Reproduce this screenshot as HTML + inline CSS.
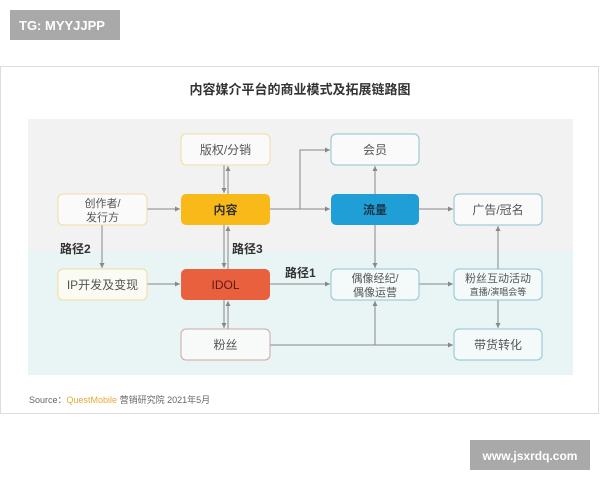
<!DOCTYPE html>
<html><head><meta charset="utf-8"><style>
html,body{margin:0;padding:0;background:#fff;width:600px;height:480px;overflow:hidden}
svg text{font-family:"Liberation Sans","Noto Sans CJK SC",sans-serif}
</style></head><body>
<svg width="600" height="480" viewBox="0 0 600 480" xmlns="http://www.w3.org/2000/svg">
<defs><marker id="a" markerWidth="6" markerHeight="6" refX="5" refY="3" orient="auto"><path d="M0,0.5 L5,3 L0,5.5z" fill="#888"/></marker></defs>
<rect x="10" y="10" width="110" height="30" fill="#a9a9a9"/>
<text x="19" y="30" font-size="13" fill="#fff" font-weight="bold">TG: MYYJJPP</text>
<rect x="0.5" y="66.5" width="598" height="347" fill="#fff" stroke="#ddd"/>
<text x="300" y="94" font-size="13" fill="#333" text-anchor="middle" font-weight="bold">内容媒介平台的商业模式及拓展链路图</text>
<rect x="28" y="119" width="545" height="135" fill="#f2f2f2"/>
<rect x="28" y="250" width="545" height="125" fill="#e9f5f4"/>
<g stroke="#888" stroke-width="1" fill="none">
<line x1="224" y1="165" x2="224" y2="193" marker-end="url(#a)"/>
<line x1="228" y1="194" x2="228" y2="166" marker-end="url(#a)"/>
<line x1="147" y1="209" x2="180" y2="209" marker-end="url(#a)"/>
<line x1="270" y1="209" x2="330" y2="209" marker-end="url(#a)"/>
<polyline points="300,209 300,150 330,150" marker-end="url(#a)"/>
<line x1="375" y1="194" x2="375" y2="166" marker-end="url(#a)"/>
<line x1="419" y1="209" x2="453" y2="209" marker-end="url(#a)"/>
<line x1="375" y1="225" x2="375" y2="268" marker-end="url(#a)"/>
<line x1="102" y1="225" x2="102" y2="268" marker-end="url(#a)"/>
<line x1="224" y1="225" x2="224" y2="268" marker-end="url(#a)"/>
<line x1="228" y1="269" x2="228" y2="226" marker-end="url(#a)"/>
<line x1="147" y1="284" x2="180" y2="284" marker-end="url(#a)"/>
<line x1="270" y1="284" x2="330" y2="284" marker-end="url(#a)"/>
<line x1="419" y1="284" x2="453" y2="284" marker-end="url(#a)"/>
<line x1="498" y1="269" x2="498" y2="226" marker-end="url(#a)"/>
<line x1="498" y1="300" x2="498" y2="328" marker-end="url(#a)"/>
<line x1="224" y1="300" x2="224" y2="328" marker-end="url(#a)"/>
<line x1="228" y1="329" x2="228" y2="301" marker-end="url(#a)"/>
<line x1="270" y1="345" x2="453" y2="345" marker-end="url(#a)"/>
<line x1="375" y1="345" x2="375" y2="301" marker-end="url(#a)"/>
</g>
<g font-size="12" text-anchor="middle" fill="#555">
<rect x="181" y="134" width="89" height="31" rx="5" fill="#fafafa" stroke="#f0dca0"/>
<text x="225.5" y="154">版权/分销</text>
<rect x="331" y="134" width="88" height="31" rx="5" fill="#fafafa" stroke="#8fc3d3"/>
<text x="375" y="154">会员</text>
<rect x="58" y="194" width="89" height="31" rx="5" fill="#fafafa" stroke="#f0dca0"/>
<text x="102.5" y="207" font-size="11">创作者/</text>
<text x="102.5" y="221" font-size="11">发行方</text>
<rect x="181" y="194" width="89" height="31" rx="5" fill="#f8b919"/>
<text x="225.5" y="214" fill="#333" font-weight="bold">内容</text>
<rect x="331" y="194" width="88" height="31" rx="5" fill="#1f9fd6"/>
<text x="375" y="214" fill="#1a3344" font-weight="bold">流量</text>
<rect x="454" y="194" width="88" height="31" rx="5" fill="#fafafa" stroke="#8fc3d3"/>
<text x="498" y="214">广告/冠名</text>
<rect x="58" y="269" width="89" height="31" rx="5" fill="#fafcf4" stroke="#f0dca0"/>
<text x="102.5" y="289">IP开发及变现</text>
<rect x="181" y="269" width="89" height="31" rx="5" fill="#e9603f"/>
<text x="225.5" y="289" fill="#5a1a10">IDOL</text>
<rect x="331" y="269" width="88" height="31" rx="5" fill="#f4fafa" stroke="#8fc3d3"/>
<text x="375" y="282" font-size="11">偶像经纪/</text>
<text x="375" y="296" font-size="11">偶像运营</text>
<rect x="454" y="269" width="88" height="31" rx="5" fill="#f4fafa" stroke="#8fc3d3"/>
<text x="498" y="282" font-size="11">粉丝互动活动</text>
<text x="498" y="295" font-size="9">直播/演唱会等</text>
<rect x="181" y="329" width="89" height="31" rx="5" fill="#f8fafa" stroke="#c8aaa2"/>
<text x="225.5" y="349">粉丝</text>
<rect x="454" y="329" width="88" height="31" rx="5" fill="#f4fafa" stroke="#8fc3d3"/>
<text x="498" y="349">带货转化</text>
</g>
<g font-size="12" font-weight="bold" fill="#333">
<text x="60" y="253">路径2</text>
<text x="232" y="253">路径3</text>
<text x="285" y="277">路径1</text>
</g>
<text x="29" y="403" font-size="9" fill="#666">Source：<tspan fill="#e8a83a">QuestMobile</tspan> 营销研究院 2021年5月</text>
<rect x="470" y="440" width="120" height="30" fill="#a9a9a9"/>
<text x="530" y="460" font-size="12" fill="#fff" text-anchor="middle" font-weight="bold">www.jsxrdq.com</text>
</svg>
</body></html>
